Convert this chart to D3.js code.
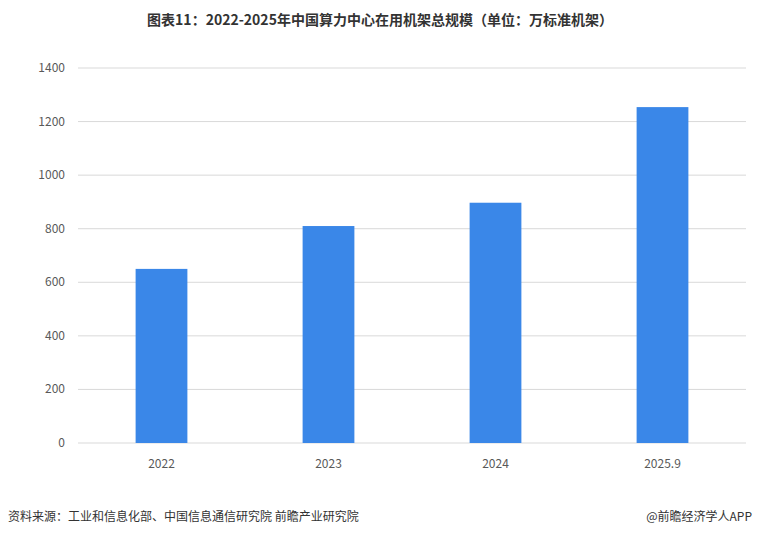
<!DOCTYPE html>
<html><head><meta charset="utf-8">
<script src="https://cdn.jsdelivr.net/npm/d3@7"></script>
<style>body{margin:0;background:#fff;font-family:"Noto Sans CJK SC","Noto Sans",sans-serif;}</style>
</head><body>
<svg id="chart" width="760" height="537"></svg>
<script>
// chart data
var categories = ["2022", "2023", "2024", "2025.9"];
var values = [650, 810, 897, 1254];
var yTicks = [0, 200, 400, 600, 800, 1000, 1200, 1400];

var svg = d3.select("#chart");
var x = d3.scaleBand().domain(categories).range([78, 746]).paddingInner(0.69).paddingOuter(0.345);
var y = d3.scaleLinear().domain([0, 1400]).range([443, 68]);

// title
svg.append("text").attr("x", 380).attr("y", 25).attr("text-anchor", "middle")
    .attr("font-size", 14).attr("font-weight", "bold").attr("fill", "#333")
    .text("图表11：2022-2025年中国算力中心在用机架总规模（单位：万标准机架）");

// gridlines
svg.append("g").selectAll("line").data(yTicks).enter().append("line")
    .attr("x1", 78).attr("x2", 746)
    .attr("y1", function (d) { return y(d); }).attr("y2", function (d) { return y(d); })
    .attr("stroke", "#d9d9d9").attr("stroke-width", 1);

// y labels
svg.append("g").selectAll("text").data(yTicks).enter().append("text")
    .attr("x", 65).attr("y", function (d) { return y(d) + 4; })
    .attr("text-anchor", "end").attr("font-size", 12).attr("fill", "#595959")
    .text(function (d) { return d; });

// bars
svg.append("g").selectAll("rect").data(values).enter().append("rect")
    .attr("x", function (d, i) { return x(categories[i]); })
    .attr("width", x.bandwidth())
    .attr("y", function (d) { return y(d); })
    .attr("height", function (d) { return y(0) - y(d); })
    .attr("fill", "#3a87e8");

// x labels
svg.append("g").selectAll("text").data(categories).enter().append("text")
    .attr("x", function (d) { return x(d) + x.bandwidth() / 2; }).attr("y", 468)
    .attr("text-anchor", "middle").attr("font-size", 12).attr("fill", "#595959")
    .text(function (d) { return d; });

// footer
svg.append("text").attr("x", 8).attr("y", 521).attr("font-size", 12).attr("fill", "#333")
    .text("资料来源：工业和信息化部、中国信息通信研究院  前瞻产业研究院");
svg.append("text").attr("x", 752).attr("y", 521).attr("text-anchor", "end").attr("font-size", 12).attr("fill", "#333")
    .text("@前瞻经济学人APP");
</script>
</body></html>
